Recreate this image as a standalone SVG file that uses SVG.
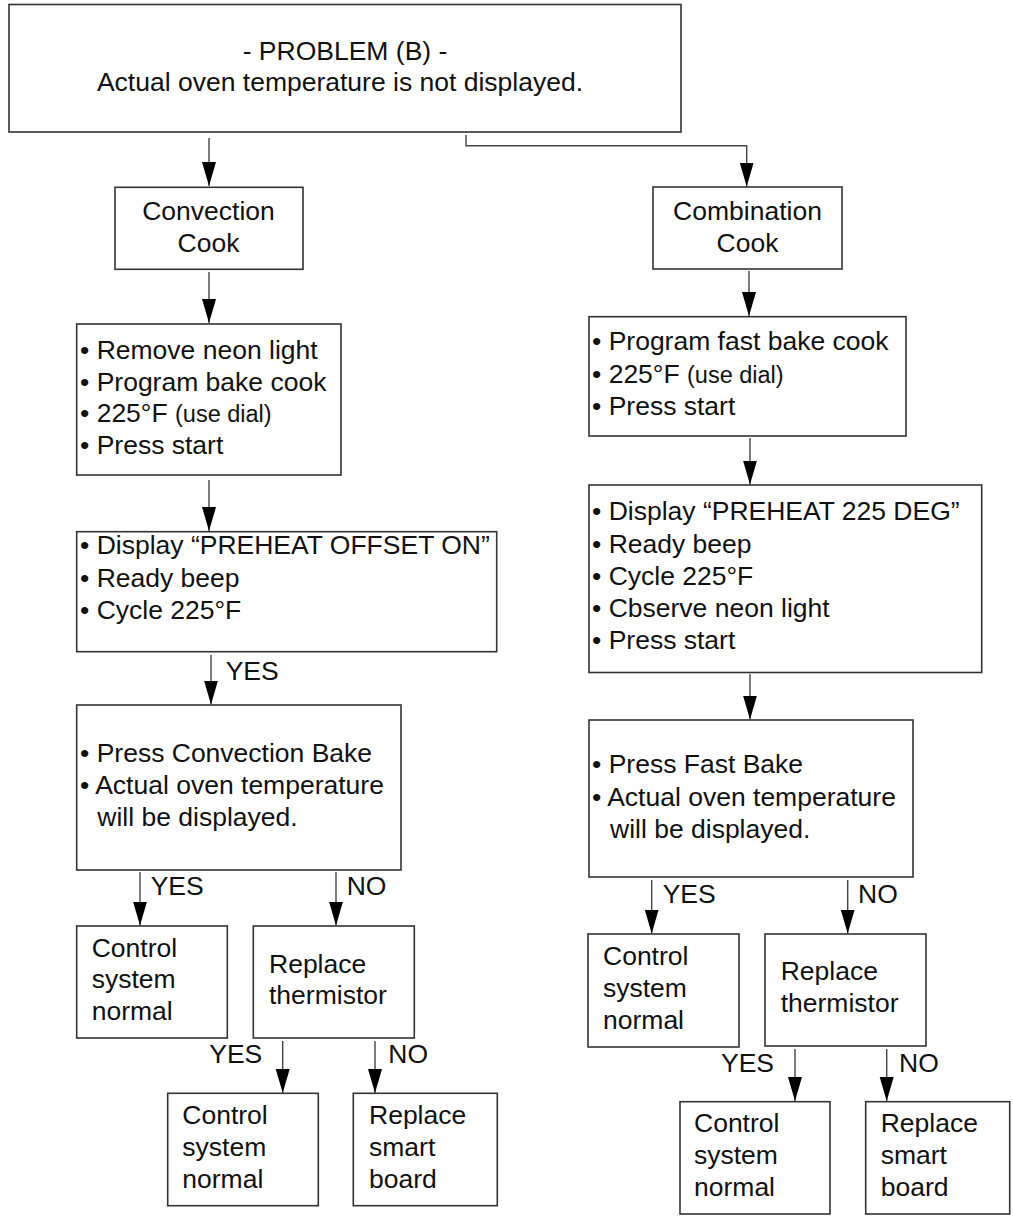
<svg xmlns="http://www.w3.org/2000/svg" width="1013" height="1217" viewBox="0 0 1013 1217">
<style>
.box{fill:#fff;stroke:#333;stroke-width:1.6}
.t{font-family:"Liberation Sans",Arial,sans-serif;font-size:26.5px;fill:#111}
.c{text-anchor:middle}
.ln{fill:none;stroke:#444;stroke-width:1.4}
.sm{font-size:23.5px}
</style>
<defs>
<marker id="ah" markerUnits="userSpaceOnUse" markerWidth="26" markerHeight="16" refX="24" refY="7" orient="auto">
<path d="M0,0 L24,7 L0,14 z" fill="#000"/>
</marker>
</defs>
<rect width="1013" height="1217" fill="#fff"/>

<g id="connectors">
<path class="ln" d="M209,138 V186" marker-end="url(#ah)"/>
<path class="ln" d="M466,135 V145.7 H746.7 V186.5" marker-end="url(#ah)"/>
<path class="ln" d="M209,272 V323" marker-end="url(#ah)"/>
<path class="ln" d="M209,480 V531" marker-end="url(#ah)"/>
<path class="ln" d="M211,655 V704.5" marker-end="url(#ah)"/>
<path class="ln" d="M140,872 V925.5" marker-end="url(#ah)"/>
<path class="ln" d="M336,872 V925.5" marker-end="url(#ah)"/>
<path class="ln" d="M282.7,1041 V1093" marker-end="url(#ah)"/>
<path class="ln" d="M375,1041 V1093" marker-end="url(#ah)"/>
<path class="ln" d="M749,271 V316" marker-end="url(#ah)"/>
<path class="ln" d="M750,438 V484.5" marker-end="url(#ah)"/>
<path class="ln" d="M750,674 V719.5" marker-end="url(#ah)"/>
<path class="ln" d="M651.7,880 V933.5" marker-end="url(#ah)"/>
<path class="ln" d="M847.7,880 V933.5" marker-end="url(#ah)"/>
<path class="ln" d="M795,1049 V1101" marker-end="url(#ah)"/>
<path class="ln" d="M886.7,1049 V1101" marker-end="url(#ah)"/>
<text class="t" x="225.7" y="680">YES</text>
<text class="t" x="150.7" y="895">YES</text>
<text class="t" x="346.7" y="895">NO</text>
<text class="t" x="262.3" y="1063.3" text-anchor="end">YES</text>
<text class="t" x="388.3" y="1063.3">NO</text>
<text class="t" x="662.7" y="903">YES</text>
<text class="t" x="858" y="903">NO</text>
<text class="t" x="774" y="1071.7" text-anchor="end">YES</text>
<text class="t" x="899" y="1071.7">NO</text>
</g>

<g id="problem">
<rect class="box" x="9" y="4.5" width="672" height="127.5"/>
<text class="t c" x="345" y="60">- PROBLEM (B) -</text>
<text class="t c" x="340" y="90.7">Actual oven temperature is not displayed.</text>
</g>

<g id="convection-cook">
<rect class="box" x="115" y="187.3" width="188" height="82"/>
<text class="t c" x="208.5" y="220">Convection</text>
<text class="t c" x="208.5" y="251.7">Cook</text>
</g>

<g id="combination-cook">
<rect class="box" x="653" y="187" width="189" height="82"/>
<text class="t c" x="747.5" y="220">Combination</text>
<text class="t c" x="747.5" y="251.7">Cook</text>
</g>

<g id="conv-step1">
<rect class="box" x="76.7" y="324" width="264.3" height="151"/>
<text class="t" x="80" y="359">• Remove neon light</text>
<text class="t" x="80" y="390.5">• Program bake cook</text>
<text class="t" x="80" y="422.3">• 225°F <tspan class="sm">(use dial)</tspan></text>
<text class="t" x="80" y="454.3">• Press start</text>
</g>

<g id="conv-step2">
<rect class="box" x="76.7" y="531.7" width="420" height="120"/>
<text class="t" x="80" y="554.3">• Display “PREHEAT OFFSET ON”</text>
<text class="t" x="80" y="587.3">• Ready beep</text>
<text class="t" x="80" y="619.3">• Cycle 225°F</text>
</g>

<g id="conv-step3">
<rect class="box" x="76.7" y="705" width="324.3" height="165"/>
<text class="t" x="80" y="761.7">• Press Convection Bake</text>
<text class="t" x="80" y="794">• Actual oven temperature</text>
<text class="t" x="97.3" y="826">will be displayed.</text>
</g>

<g id="conv-normal-1">
<rect class="box" x="76.7" y="926" width="150.6" height="112"/>
<text class="t" x="91.7" y="956.7">Control</text>
<text class="t" x="91.7" y="988.3">system</text>
<text class="t" x="91.7" y="1020">normal</text>
</g>

<g id="conv-replace-thermistor">
<rect class="box" x="253.3" y="926" width="161" height="112"/>
<text class="t" x="269" y="972.7">Replace</text>
<text class="t" x="269" y="1004">thermistor</text>
</g>

<g id="conv-normal-2">
<rect class="box" x="167.7" y="1093.3" width="150.6" height="112.4"/>
<text class="t" x="182.3" y="1124.3">Control</text>
<text class="t" x="182.3" y="1156">system</text>
<text class="t" x="182.3" y="1188.3">normal</text>
</g>

<g id="conv-replace-board">
<rect class="box" x="353.3" y="1093.3" width="144" height="112.4"/>
<text class="t" x="369" y="1124.3">Replace</text>
<text class="t" x="369" y="1156">smart</text>
<text class="t" x="369" y="1188.3">board</text>
</g>

<g id="comb-step1">
<rect class="box" x="589" y="316.7" width="317" height="119.3"/>
<text class="t" x="592" y="350">• Program fast bake cook</text>
<text class="t" x="592" y="382.7">• 225°F <tspan class="sm">(use dial)</tspan></text>
<text class="t" x="592" y="415">• Press start</text>
</g>

<g id="comb-step2">
<rect class="box" x="589" y="485" width="392.7" height="187.5"/>
<text class="t" x="592" y="520">• Display “PREHEAT 225 DEG”</text>
<text class="t" x="592" y="552.7">• Ready beep</text>
<text class="t" x="592" y="585">• Cycle 225°F</text>
<text class="t" x="592" y="616.7">• Cbserve neon light</text>
<text class="t" x="592" y="649">• Press start</text>
</g>

<g id="comb-step3">
<rect class="box" x="589" y="720" width="324" height="157"/>
<text class="t" x="592" y="773">• Press Fast Bake</text>
<text class="t" x="592" y="805.7">• Actual oven temperature</text>
<text class="t" x="610" y="837.7">will be displayed.</text>
</g>

<g id="comb-normal-1">
<rect class="box" x="588" y="934" width="151" height="113"/>
<text class="t" x="603" y="965">Control</text>
<text class="t" x="603" y="997">system</text>
<text class="t" x="603" y="1029">normal</text>
</g>

<g id="comb-replace-thermistor">
<rect class="box" x="765" y="934" width="161" height="112"/>
<text class="t" x="780.7" y="980">Replace</text>
<text class="t" x="780.7" y="1011.7">thermistor</text>
</g>

<g id="comb-normal-2">
<rect class="box" x="680" y="1101.7" width="150" height="112.3"/>
<text class="t" x="694" y="1131.7">Control</text>
<text class="t" x="694" y="1164">system</text>
<text class="t" x="694" y="1195.7">normal</text>
</g>

<g id="comb-replace-board">
<rect class="box" x="865.7" y="1101.7" width="144" height="112.3"/>
<text class="t" x="880.7" y="1131.7">Replace</text>
<text class="t" x="880.7" y="1164">smart</text>
<text class="t" x="880.7" y="1195.7">board</text>
</g>
</svg>
